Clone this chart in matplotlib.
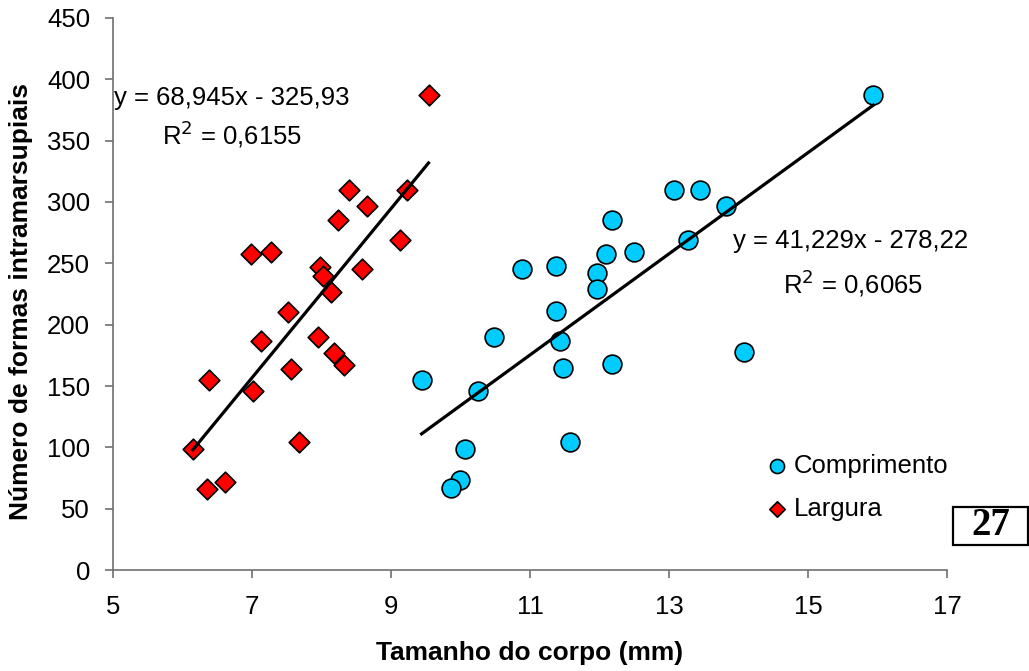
import matplotlib

matplotlib.use("Agg")
import matplotlib.pyplot as plt
from matplotlib.patches import Rectangle
import numpy as np

plt.rcParams["font.family"] = ["Liberation Sans", "DejaVu Sans"]

# Comprimento (body length) vs number of intramarsupial forms
comp_x = [15.94, 13.07, 13.44, 13.82, 12.18, 13.27, 12.09, 12.50, 10.89, 11.37,
          11.97, 11.97, 11.37, 10.48, 11.43, 14.08, 12.18, 11.48, 9.44, 10.25,
          10.07, 11.58, 9.99, 9.87]
comp_y = [387, 310, 310, 297, 285, 269, 258, 259, 245, 248,
          242, 229, 211, 190, 187, 178, 168, 165, 155, 146,
          99, 104, 73, 67]

# Largura (body width) vs number of intramarsupial forms
larg_x = [9.54, 8.39, 9.23, 8.65, 8.24, 9.13, 6.98, 7.27, 7.98, 8.02,
          8.59, 8.13, 7.52, 7.13, 7.95, 8.18, 8.33, 7.56, 6.38, 7.01,
          6.15, 7.67, 6.61, 6.35]
larg_y = [387, 310, 310, 297, 285, 269, 258, 259, 247, 240,
          245, 227, 210, 187, 190, 177, 167, 164, 155, 146,
          99, 104, 72, 66]

# trend lines as reported on the chart
comp_slope, comp_icpt, comp_r2 = 41.229, -278.22, "0,6065"
larg_slope, larg_icpt, larg_r2 = 68.945, -325.93, "0,6155"

x_ticks = [5, 7, 9, 11, 13, 15, 17]
y_ticks = list(range(0, 451, 50))

fig = plt.figure(figsize=(10.29, 6.71), dpi=100)
ax = fig.add_axes([0.1098, 0.1505, 0.8105, 0.8227])

ax.scatter(comp_x, comp_y, s=13.5 ** 2, marker="o", facecolor="#00CCFF",
           edgecolor="black", linewidth=1.2, zorder=3, label="Comprimento")
ax.scatter(larg_x, larg_y, s=10.5 ** 2, marker="D", facecolor="#FF0000",
           edgecolor="black", linewidth=1.2, zorder=3, label="Largura")

cx = np.array([min(comp_x), max(comp_x)])
lx = np.array([min(larg_x), max(larg_x)])
ax.plot(cx, comp_slope * cx + comp_icpt, color="black", lw=2.3, zorder=4)
ax.plot(lx, larg_slope * lx + larg_icpt, color="black", lw=2.3, zorder=4)

eq_size = 18.5
ax.text(5.02, 385, "y = 68,945x - 325,93", fontsize=eq_size, va="center", ha="left")
ax.text(6.71, 355, r"R$^{2}$ = 0,6155", fontsize=eq_size, va="center", ha="center")
ax.text(13.92, 268, "y = 41,229x - 278,22", fontsize=eq_size, va="center", ha="left")
ax.text(15.65, 234, r"R$^{2}$ = 0,6065", fontsize=eq_size, va="center", ha="center")

ax.set_xlim(5, 17)
ax.set_ylim(0, 450)
ax.set_xticks(x_ticks)
ax.set_yticks(y_ticks)
ax.tick_params(labelsize=18.5, direction="out", length=6, color="#707070", width=1.2)
ax.tick_params(axis="y", pad=10.5)
ax.tick_params(axis="x", pad=12)
for side in ("top", "right"):
    ax.spines[side].set_visible(False)
for side in ("left", "bottom"):
    ax.spines[side].set_color("#707070")
    ax.spines[side].set_linewidth(1.2)

ax.set_xlabel("Tamanho do corpo (mm)", fontsize=19, fontweight="bold", labelpad=16)
ax.set_ylabel("Número de formas intramarsupiais", fontsize=19, fontweight="bold")
ax.yaxis.set_label_coords(-0.096, 0.486)

ax.legend(loc="center left", bbox_to_anchor=(0.765, 0.150), frameon=False,
          fontsize=18.5, markerscale=0.75, handletextpad=0.05, labelspacing=0.75,
          borderaxespad=0, handlelength=1.2)

fig.add_artist(Rectangle((0.926, 0.1878), 0.0729, 0.0566, transform=fig.transFigure,
                         facecolor="white", edgecolor="black", lw=1.6))
fig.text(0.9625, 0.2161, "27", fontsize=28, fontweight="bold", ha="center", va="center",
         family=["Liberation Serif", "DejaVu Serif"])

fig.savefig("out.png", dpi=100)
